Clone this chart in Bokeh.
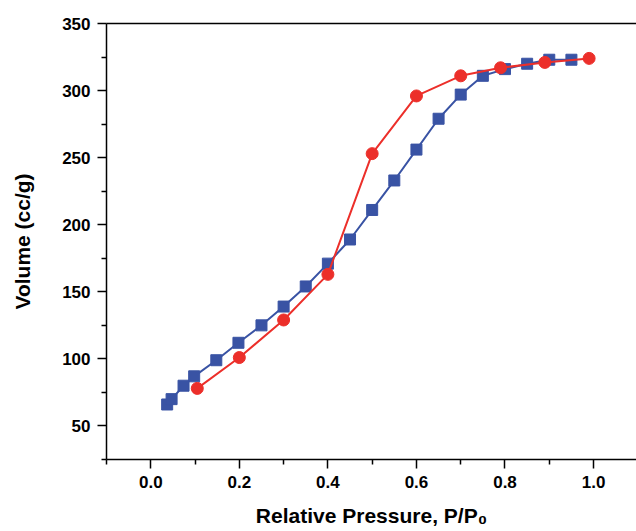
from bokeh.embed import file_html
from bokeh.resources import INLINE
from bokeh.models import ColumnDataSource, FixedTicker, LinearAxis, NumeralTickFormatter, Range1d
from bokeh.plotting import figure

#-- isotherm data
ads_p = [0.037, 0.047, 0.074, 0.098, 0.148, 0.198, 0.25, 0.30, 0.35, 0.40, 0.45,
         0.50, 0.55, 0.60, 0.65, 0.70, 0.75, 0.80, 0.85, 0.90, 0.95]
ads_v = [66, 70, 80, 87, 99, 112, 125, 139, 154, 171, 189,
         211, 233, 256, 279, 297, 311, 316, 320, 323, 323]

des_p = [0.99, 0.89, 0.79, 0.70, 0.60, 0.50, 0.40, 0.30, 0.20, 0.105]
des_v = [324, 321, 317, 311, 296, 253, 163, 129, 101, 78]

x_major = [0.0, 0.2, 0.4, 0.6, 0.8, 1.0]
x_minor = [-0.1, 0.1, 0.3, 0.5, 0.7, 0.9]
y_major = [50, 100, 150, 200, 250, 300, 350]
y_minor = [25, 75, 125, 175, 225, 275, 325]

BLUE = "#3953a4"
RED = "#ec2f2a"
FONT = "Liberation Sans"

p = figure(
    width=636,
    height=531,
    x_range=Range1d(-0.1, 1.097),
    y_range=Range1d(25, 350),
    output_backend="svg",
    toolbar_location=None,
    min_border_left=106,
    min_border_right=0,
    min_border_top=23,
    min_border_bottom=72,
)
p.outline_line_color = None
p.grid.grid_line_color = None

xax = p.below[0]
yax = p.left[0]

#-- top frame line only (right side is cut off in the picture)
top = LinearAxis(ticker=FixedTicker(ticks=[]), major_label_text_font_size="0px",
                 major_tick_out=0, minor_tick_out=0, axis_line_width=1.5)
p.add_layout(top, "above")

ads = ColumnDataSource(dict(p=ads_p, v=ads_v))
des = ColumnDataSource(dict(p=des_p, v=des_v))

p.line("p", "v", source=ads, line_color=BLUE, line_width=2)
p.scatter("p", "v", source=ads, marker="square", size=11, fill_color=BLUE, line_color=BLUE)
p.line("p", "v", source=des, line_color=RED, line_width=2)
p.scatter("p", "v", source=des, marker="circle", size=12, fill_color=RED, line_color=RED)

#-- axes
xax.ticker = FixedTicker(ticks=x_major, minor_ticks=x_minor)
yax.ticker = FixedTicker(ticks=y_major, minor_ticks=y_minor)
xax.formatter = NumeralTickFormatter(format="0.0")

for ax in (xax, yax):
    ax.axis_line_width = 1.5
    ax.major_tick_line_width = 1.5
    ax.minor_tick_line_width = 1.5
    ax.major_tick_in = 0
    ax.major_tick_out = 9
    ax.minor_tick_in = 0
    ax.minor_tick_out = 5
    ax.major_label_text_font = FONT
    ax.major_label_text_font_style = "bold"
    ax.major_label_text_font_size = "17px"
    ax.major_label_text_color = "black"
    ax.axis_label_text_font = FONT
    ax.axis_label_text_font_style = "bold"
    ax.axis_label_text_font_size = "21px"
    ax.axis_label_text_color = "black"

xax.major_label_standoff = 7
xax.axis_label_standoff = 13
yax.major_label_standoff = 7
yax.axis_label_standoff = 25

xax.axis_label = "Relative Pressure, P/P\u2080"
yax.axis_label = "Volume (cc/g)"

open("out.html", "w").write(file_html(p, INLINE))
